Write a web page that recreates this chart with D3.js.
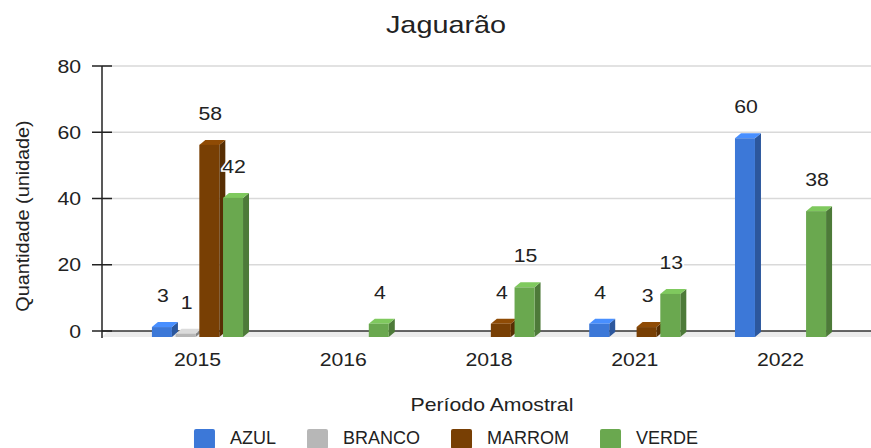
<!DOCTYPE html>
<html>
<head>
<meta charset="utf-8">
<script src="https://cdn.jsdelivr.net/npm/d3@7"></script>
<style>
  body { margin: 0; background: #fff; }
  text { font-family: "Liberation Sans", Arial, sans-serif; fill: #222; }
</style>
</head>
<body>
<div id="chart"></div>
<script>
// data
const years = ["2015", "2016", "2018", "2021", "2022"];
const series = ["AZUL", "BRANCO", "MARROM", "VERDE"];
const azul = [3, 0, 0, 4, 60];
const branco = [1, 0, 0, 0, 0];
const marrom = [58, 0, 4, 3, 0];
const verde = [42, 4, 15, 13, 38];
const yTicks = [0, 20, 40, 60, 80];

const values = [azul, branco, marrom, verde];
const colors = ["#3c78d8", "#b7b7b7", "#783f04", "#6aa84f"];

const width = 871, height = 448;
const depth = 6;      // 3d offset (floor)
const sx = 1.18;      // text looks horizontally stretched in the original

const svg = d3.select("#chart").append("svg")
  .attr("width", width)
  .attr("height", height);

// scales (y is the back plane, front faces sit "depth" lower)
const y = d3.scaleLinear().domain([0, 80]).range([331, 66]);
const yF = v => y(v) + depth;
const x0 = d3.scaleBand().domain(years).range([124.6, 853.4]);
const x1 = d3.scaleBand().domain(series).range([-45.55, 45.55]).paddingInner(0.156);

// helper for stretched text
function label(g, x, yy, str, size, anchor, sc) {
  const t = g.append("g")
    .attr("transform", `translate(${x},${yy}) scale(${sc},1)`)
    .append("text")
    .attr("text-anchor", anchor)
    .style("font-size", size + "px")
    .text(str);
  return t;
}

// title
label(svg, 446, 33, "Jaguarão", 24, "middle", 1.2);

// floor
const axisX = 102;
svg.append("polygon")
  .attr("points", [[axisX + depth, y(0)], [width, y(0)], [width, yF(0)], [axisX, yF(0)]].join(" "))
  .attr("fill", "#ebebeb");

// gridlines
svg.selectAll(".grid")
  .data(yTicks.filter(d => d > 0))
  .enter().append("line")
  .attr("x1", axisX).attr("x2", width)
  .attr("y1", d => y(d)).attr("y2", d => y(d))
  .attr("stroke", "#d9d9d9").attr("stroke-width", 1.3);

// zero line
svg.append("line")
  .attr("x1", axisX).attr("x2", width)
  .attr("y1", y(0)).attr("y2", y(0))
  .attr("stroke", "#333").attr("stroke-width", 1.3);

// y axis
svg.append("line")
  .attr("x1", axisX).attr("x2", axisX)
  .attr("y1", y(80)).attr("y2", yF(0) + 1)
  .attr("stroke", "#222").attr("stroke-width", 1.5);
svg.selectAll(".tick")
  .data(yTicks)
  .enter().append("line")
  .attr("x1", 92).attr("x2", 112)
  .attr("y1", d => y(d)).attr("y2", d => y(d))
  .attr("stroke", "#222").attr("stroke-width", 1.5);
yTicks.forEach(d => label(svg, 81, y(d) + 6.5, d, 18, "end", sx));

// y title
svg.append("g")
  .attr("transform", "translate(29,216) rotate(-90) scale(1.1,1)")
  .append("text")
  .attr("text-anchor", "middle")
  .style("font-size", "18px")
  .text("Quantidade (unidade)");

// x labels
years.forEach(yr => label(svg, x0(yr) + x0.bandwidth() / 2, 366, yr, 18, "middle", sx));
label(svg, 492, 411, "Período Amostral", 18, "middle", sx);

// bars
const bw = x1.bandwidth();
const dxb = 6, dyb = 5;
const bars = [];
years.forEach((yr, i) => {
  series.forEach((s, j) => {
    const v = values[j][i];
    if (v > 0) bars.push({ yr, s, v, c: colors[j] });
  });
});

const barG = svg.append("g");
bars.forEach(b => {
  const x = x0(b.yr) + x0.bandwidth() / 2 + x1(b.s);
  const top = yF(b.v), bot = yF(0);
  const g = barG.append("g");
  g.append("polygon")
    .attr("points", [[x + bw, top], [x + bw + dxb, top - dyb], [x + bw + dxb, bot - dyb], [x + bw, bot]].join(" "))
    .attr("fill", d3.color(b.c).darker(0.9));
  g.append("polygon")
    .attr("points", [[x, top], [x + dxb, top - dyb], [x + bw + dxb, top - dyb], [x + bw, top]].join(" "))
    .attr("fill", d3.color(b.c).brighter(0.5));
  g.append("rect")
    .attr("x", x).attr("y", top)
    .attr("width", bw).attr("height", bot - top)
    .attr("fill", b.c);
});

// value labels
bars.forEach(b => {
  const x = x0(b.yr) + x0.bandwidth() / 2 + x1(b.s) + bw / 2 + 1;
  label(svg, x, yF(b.v) - 25, b.v, 18, "middle", sx)
    .attr("stroke", "#fff").attr("stroke-width", 3)
    .attr("paint-order", "stroke");
});

// legend
const leg = svg.append("g");
let lx = 0;
series.forEach((s, j) => {
  leg.append("rect")
    .attr("x", lx).attr("y", 429)
    .attr("width", 21).attr("height", 20)
    .attr("rx", 2)
    .attr("fill", colors[j]);
  const t = leg.append("text")
    .attr("x", lx + 36).attr("y", 444)
    .style("font-size", "18px")
    .text(s);
  lx += 36 + t.node().getComputedTextLength() + 31;
});
lx -= 31;
leg.attr("transform", `translate(${446 - lx / 2},0)`);
</script>
</body>
</html>
